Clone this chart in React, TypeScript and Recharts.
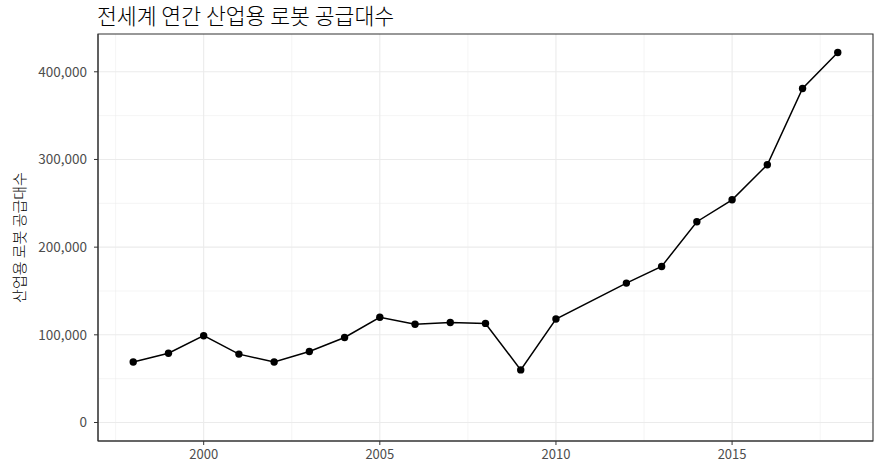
import React from 'react';
import { LineChart, Line, XAxis, YAxis, CartesianGrid, ReferenceArea } from 'recharts';

const years = [1998, 1999, 2000, 2001, 2002, 2003, 2004, 2005, 2006, 2007, 2008, 2009, 2010, 2012, 2013, 2014, 2015, 2016, 2017, 2018];
const units = [69000, 79000, 99000, 78000, 69000, 81000, 97000, 120000, 112000, 114000, 113000, 60000, 118000, 159000, 178000, 229000, 254000, 294000, 381000, 422000];

const xTicks = [2000, 2005, 2010, 2015];
const xMinor = [1997.5, 2002.5, 2007.5, 2012.5, 2017.5];
const yTicks = [0, 100000, 200000, 300000, 400000];
const yMinor = [50000, 150000, 250000, 350000];

const xDomain = [1997, 2019];
const yDomain = [-21100, 443100];

const data = years.map((year, i) => ({ year, units: units[i] }));

const FONT = '"Noto Sans CJK KR", "Noto Sans", sans-serif';
const GRID = '#EBEBEB';

// map domain values to pixels inside the plot area (linear, same as the axes)
const toX = (offset: any, vals: number[]) =>
  vals.map((v) => offset.left + ((v - xDomain[0]) / (xDomain[1] - xDomain[0])) * offset.width);
const toY = (offset: any, vals: number[]) =>
  vals.map((v) => offset.top + ((yDomain[1] - v) / (yDomain[1] - yDomain[0])) * offset.height);

export default function App() {
  const majorV = ({ offset }: any) => toX(offset, xTicks);
  const majorH = ({ offset }: any) => toY(offset, yTicks);
  const minorV = ({ offset }: any) => toX(offset, xMinor);
  const minorH = ({ offset }: any) => toY(offset, yMinor);

  return (
    <div style={{ position: 'absolute', left: 0, top: 0, width: 874, height: 463, background: '#fff', fontFamily: FONT }}>
      <div style={{ position: 'absolute', left: 97, top: 1, fontSize: 21.6, fontWeight: 300, color: '#000', lineHeight: '28px', whiteSpace: 'nowrap' }}>
        전세계 연간 산업용 로봇 공급대수
      </div>
      <LineChart width={874} height={463} data={data} margin={{ top: 34, right: 1, left: 0, bottom: 0 }}>
        <CartesianGrid stroke={GRID} strokeWidth={0.55} verticalCoordinatesGenerator={minorV} horizontalCoordinatesGenerator={minorH} />
        <CartesianGrid stroke={GRID} strokeWidth={1.1} verticalCoordinatesGenerator={majorV} horizontalCoordinatesGenerator={majorH} />
        <XAxis
          dataKey="year"
          type="number"
          domain={xDomain}
          ticks={xTicks}
          allowDataOverflow
          height={22}
          tickSize={4}
          tickMargin={5}
          stroke="#333333"
          tick={{ fill: '#4D4D4D', fontSize: 13, fontFamily: FONT }}
        />
        <YAxis
          type="number"
          domain={yDomain}
          ticks={yTicks}
          allowDataOverflow
          width={98}
          tickSize={4}
          tickMargin={7}
          stroke="#333333"
          tickFormatter={(v: number) => v.toLocaleString('en-US')}
          tick={{ fill: '#4D4D4D', fontSize: 13.5, fontFamily: FONT }}
          label={{
            value: '산업용 로봇 공급대수',
            angle: -90,
            position: 'insideLeft',
            offset: 20,
            style: { textAnchor: 'middle', fill: '#000', fontSize: 15, fontWeight: 300, fontFamily: FONT },
          }}
        />
        <ReferenceArea x1={xDomain[0]} x2={xDomain[1]} y1={yDomain[0]} y2={yDomain[1]} fill="none" stroke="#333333" strokeWidth={1.1} />
        <Line
          dataKey="units"
          stroke="#000"
          strokeWidth={1.5}
          dot={{ r: 3.7, fill: '#000', stroke: '#000', strokeWidth: 0 }}
          isAnimationActive={false}
        />
      </LineChart>
    </div>
  );
}
